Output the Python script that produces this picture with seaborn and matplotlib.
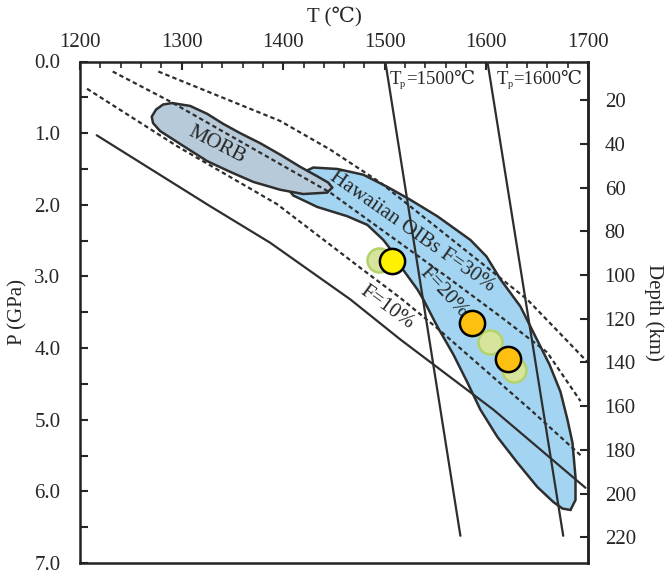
import numpy as np
import pandas as pd
import matplotlib
matplotlib.use("Agg")
import matplotlib.pyplot as plt
import matplotlib.transforms as mtransforms
import seaborn as sns

# ---------------- data (T in degC, P in GPa) ----------------
solid_T = [1216.5, 1328.1, 1387.2, 1466.0, 1515.3, 1606.9, 1697.5]
solid_P = [1.03, 2.02, 2.53, 3.32, 3.88, 4.86, 5.95]

dashC_T = [1206.9, 1295.3, 1393.8, 1475.9, 1515.3, 1551.4, 1643.3, 1694.6]
dashC_P = [0.38, 1.18, 1.99, 2.88, 3.30, 3.72, 4.86, 5.52]

dashA_T = [1232.2, 1290.3, 1446.3, 1564.5, 1613.8, 1659.8, 1692.6]
dashA_P = [0.14, 0.57, 1.83, 3.04, 3.56, 4.06, 4.74]

dashU_T = [1277.1, 1397.0, 1446.3, 1495.6, 1640.1, 1699.2]
dashU_P = [0.14, 0.83, 1.23, 1.69, 3.32, 4.19]

tp1500_T = [1500.5, 1574.4]
tp1500_P = [0.0, 6.62]
tp1600_T = [1601.0, 1675.6]
tp1600_P = [0.0, 6.62]

oib_T = [1402.0, 1414.8, 1429.6, 1453.2, 1478.8, 1502.5, 1525.1, 1551.7, 1584.2,
         1600.0, 1613.8, 1633.5, 1648.3, 1662.1, 1672.9, 1679.8, 1684.7, 1687.7,
         1687.7, 1682.8, 1674.9, 1666.0, 1650.2, 1630.5, 1610.8, 1594.1, 1581.3,
         1567.5, 1551.7, 1537.9, 1532.0, 1518.2, 1508.4, 1498.5, 1482.8, 1463.1,
         1433.5, 1409.9]
oib_P = [1.73, 1.58, 1.48, 1.50, 1.58, 1.75, 1.93, 2.16, 2.49,
         2.72, 3.04, 3.42, 3.84, 4.23, 4.61, 5.00, 5.32, 5.80,
         6.12, 6.26, 6.24, 6.15, 5.94, 5.60, 5.24, 4.86, 4.48,
         4.09, 3.70, 3.32, 3.18, 2.91, 2.67, 2.49, 2.28, 2.16,
         2.03, 1.87]

morb_T = [1270.6, 1274.9, 1281.8, 1290.6, 1308.4, 1325.1, 1340.9, 1357.6, 1377.3,
          1397.0, 1416.7, 1434.5, 1444.3, 1448.3, 1443.3, 1419.7, 1397.0, 1370.4,
          1347.8, 1325.1, 1298.5, 1278.8, 1271.9]
morb_P = [0.77, 0.67, 0.60, 0.58, 0.62, 0.73, 0.87, 1.00, 1.14,
          1.30, 1.47, 1.61, 1.69, 1.76, 1.83, 1.85, 1.79, 1.68,
          1.54, 1.39, 1.15, 0.97, 0.86]

green_T = [1493.9, 1603.9, 1626.9]
green_P = [2.77, 3.91, 4.30]
yellow_T = [1507.1]
yellow_P = [2.79]
orange_T = [1585.9, 1621.0]
orange_P = [3.65, 4.15]

x_ticks = [1200, 1300, 1400, 1500, 1600, 1700]
y_ticks = [0, 1, 2, 3, 4, 5, 6, 7]
depth_ticks = [20, 40, 60, 80, 100, 120, 140, 160, 180, 200, 220]

# ---------------- style ----------------
sns.set_style("white")
plt.rcParams["font.family"] = ["Liberation Serif", "DejaVu Serif", "Noto Sans CJK SC"]

fig = plt.figure(figsize=(6.69, 5.79), dpi=100)
ax = fig.add_axes([80 / 669, 1 - 563 / 579, (588 - 80) / 669, (563 - 61.5) / 579])

line_c = "#2e2e2e"
fs = 15

ax.fill(oib_T, oib_P, facecolor="#a3d5f2", edgecolor=line_c, lw=1.8, zorder=2)
ax.fill(morb_T, morb_P, facecolor="#b7cad9", edgecolor=line_c, lw=1.8, zorder=3)

dash = (0, (2.0, 1.4))
for T, P, ls in [(solid_T, solid_P, "-"), (dashC_T, dashC_P, dash),
                 (dashA_T, dashA_P, dash), (dashU_T, dashU_P, dash),
                 (tp1500_T, tp1500_P, "-"), (tp1600_T, tp1600_P, "-")]:
    sns.lineplot(x=T, y=P, sort=False, estimator=None, color=line_c, lw=1.6,
                 linestyle=ls, ax=ax, zorder=4)

sns.scatterplot(x=green_T, y=green_P, s=300, color="#d6e59b", edgecolor="#b3d36a",
                linewidth=1.8, ax=ax, zorder=5)
sns.scatterplot(x=orange_T, y=orange_P, s=330, color="#fdc010", edgecolor="black",
                linewidth=1.8, ax=ax, zorder=6)
sns.scatterplot(x=yellow_T, y=yellow_P, s=330, color="#fff200", edgecolor="black",
                linewidth=1.8, ax=ax, zorder=6)

# ---------------- axes ----------------
ax.set_xlim(1200, 1700)
ax.set_ylim(7, 0)
ax.xaxis.tick_top()
ax.xaxis.set_label_position("top")
ax.set_xticks(x_ticks)
ax.set_xticks(np.arange(1200, 1701, 20), minor=True)
ax.set_yticks(y_ticks)
ax.set_yticklabels([f"{v:.1f}" for v in y_ticks])
ax.set_yticks(np.arange(0, 7.01, 0.5), minor=True)
ax.tick_params(axis="x", which="major", direction="in", length=6, width=1.5,
               labelsize=fs, pad=7, top=True, bottom=False)
ax.tick_params(axis="x", which="minor", direction="in", length=4, width=1.2,
               top=True, bottom=False)
ax.tick_params(axis="y", which="both", direction="in", length=6, width=1.5,
               labelsize=fs, pad=14, left=True, right=False)
for sp in ax.spines.values():
    sp.set_linewidth(1.8)
    sp.set_color("#222222")
ax.set_xlabel("T (℃)", fontsize=fs, labelpad=8)
ax.set_ylabel("P (GPa)", fontsize=fs, labelpad=5)

sec = ax.secondary_yaxis("right", functions=(lambda p: 32.8 * p + 2.2,
                                             lambda d: (d - 2.2) / 32.8))
sec.set_yticks(depth_ticks)
sec.tick_params(direction="in", length=6, width=1.5, labelsize=fs, pad=12)
sec.spines["right"].set_linewidth(1.8)
sec.set_ylabel("Depth (km)", fontsize=fs, rotation=-90, labelpad=20)

# ---------------- annotations ----------------
ax.text(1335, 1.17, "MORB", fontsize=fs, rotation=-27, ha="center", va="center", zorder=7)
ax.text(1527, 2.37, "Hawaiian OIBs F=30%", fontsize=fs, rotation=-35,
        ha="center", va="center", zorder=7)
ax.text(1557.6, 3.23, "F=20%", fontsize=fs, rotation=-47, ha="center", va="center", zorder=7)
ax.text(1502.5, 3.44, "F=10%", fontsize=fs, rotation=-36, ha="center", va="center", zorder=7)

tfs = 13.5
for T0, lab in [(1504.5, "=1500℃"), (1610.5, "=1600℃")]:
    ax.text(T0, 0.31, "T", fontsize=tfs, ha="left", va="baseline", zorder=7)
    tr = mtransforms.offset_copy(ax.transData, fig=fig, x=0.611 * tfs - 0.5, y=-2.6, units="points")
    ax.text(T0, 0.31, "p", fontsize=7.5, ha="left", va="baseline", transform=tr, zorder=7)
    tr2 = mtransforms.offset_copy(ax.transData, fig=fig, x=0.611 * tfs + 3.5, y=0, units="points")
    ax.text(T0, 0.31, lab, fontsize=tfs, ha="left", va="baseline", transform=tr2, zorder=7)

fig.savefig("out.png", dpi=100)
